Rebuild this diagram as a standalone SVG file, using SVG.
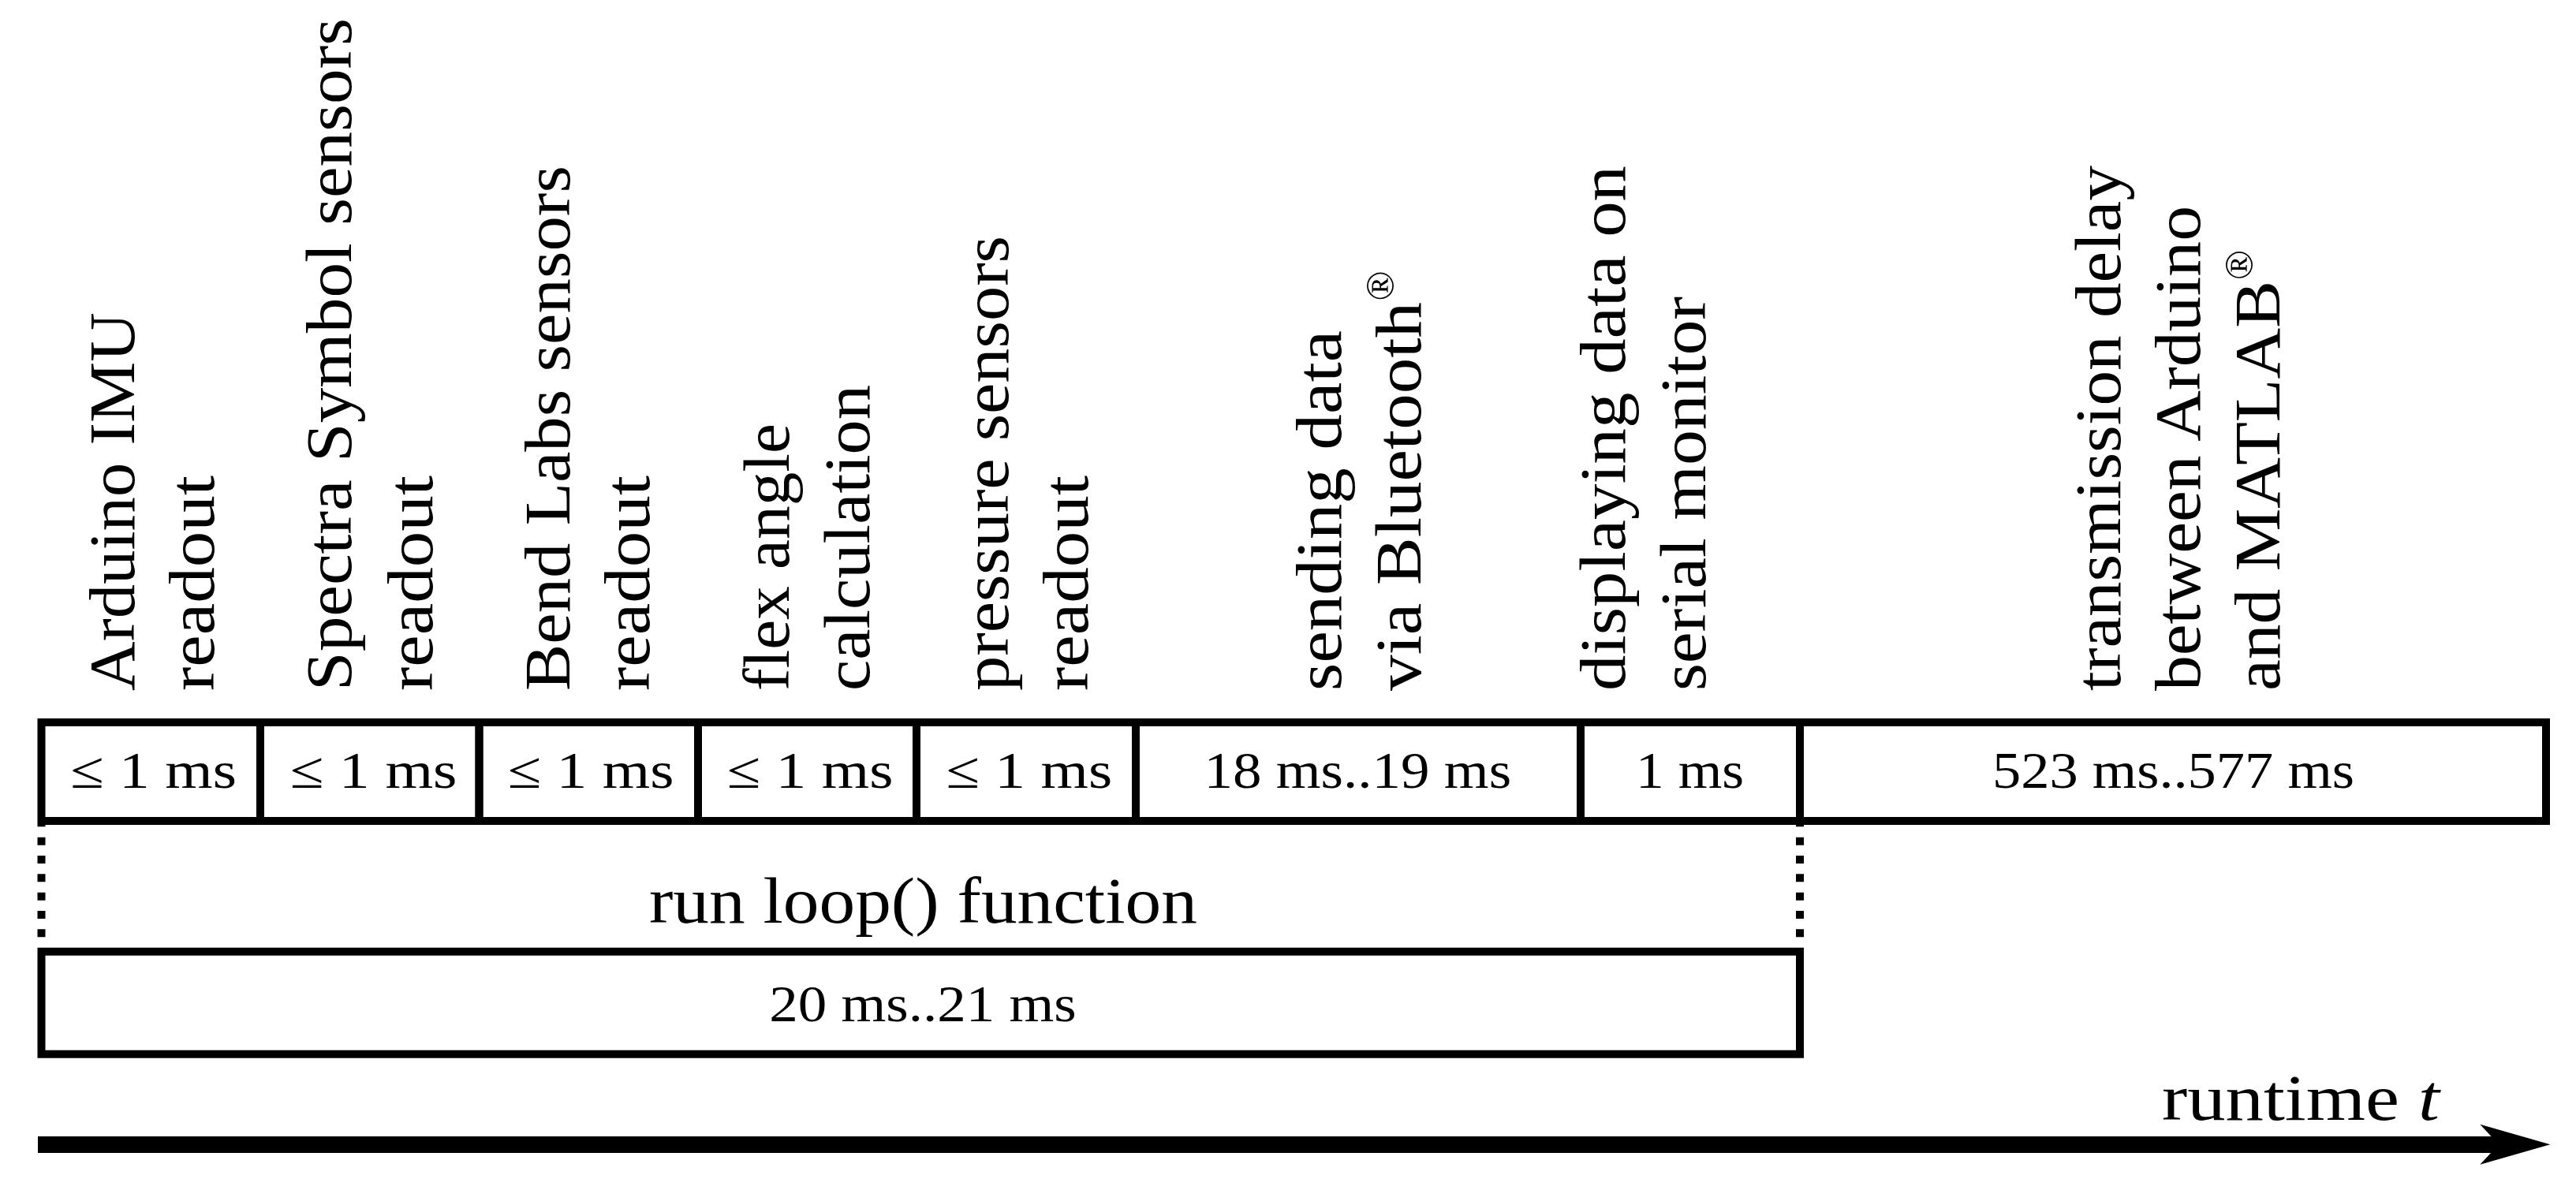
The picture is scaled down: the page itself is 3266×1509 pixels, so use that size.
<svg xmlns="http://www.w3.org/2000/svg" width="3266" height="1509" viewBox="0 0 3266 1509">
<style>
.box{fill:none;stroke:#000;stroke-width:10}
.lbl{font-family:"Liberation Serif",serif;font-size:82px;fill:#000}
.dur{font-family:"Liberation Serif",serif;font-size:66px;text-anchor:middle;fill:#000}
.big{font-family:"Liberation Serif",serif;font-size:82px;fill:#000}
.reg{font-family:"Liberation Serif",serif;font-size:50px;text-anchor:middle;fill:#000}
.dot{fill:none;stroke:#000;stroke-width:10;stroke-dasharray:10 13.33;stroke-dashoffset:7.63}
</style>
<rect width="3266" height="1509" fill="#fff"/>
<g id="n1">
<rect class="box" x="52.5" y="916" width="277.5" height="125"/>
<text class="dur" x="194.5" y="999" textLength="211" lengthAdjust="spacingAndGlyphs">≤ 1 ms</text>
<text class="lbl" transform="translate(169.5,876) rotate(-90)" textLength="480" lengthAdjust="spacingAndGlyphs">Arduino IMU</text>
<text class="lbl" transform="translate(270.5,876) rotate(-90)" textLength="273" lengthAdjust="spacingAndGlyphs">readout</text>
</g>
<g id="n2">
<rect class="box" x="330" y="916" width="277.5" height="125"/>
<text class="dur" x="473.5" y="999" textLength="212" lengthAdjust="spacingAndGlyphs">≤ 1 ms</text>
<text class="lbl" transform="translate(445,876) rotate(-90)" textLength="853" lengthAdjust="spacingAndGlyphs">Spectra Symbol sensors</text>
<text class="lbl" transform="translate(547.5,876) rotate(-90)" textLength="273" lengthAdjust="spacingAndGlyphs">readout</text>
</g>
<g id="n3">
<rect class="box" x="607.5" y="916" width="277.5" height="125"/>
<text class="dur" x="749" y="999" textLength="211" lengthAdjust="spacingAndGlyphs">≤ 1 ms</text>
<text class="lbl" transform="translate(722,876) rotate(-90)" textLength="666" lengthAdjust="spacingAndGlyphs">Bend Labs sensors</text>
<text class="lbl" transform="translate(823,876) rotate(-90)" textLength="273" lengthAdjust="spacingAndGlyphs">readout</text>
</g>
<g id="n4">
<rect class="box" x="885" y="916" width="277" height="125"/>
<text class="dur" x="1027" y="999" textLength="211" lengthAdjust="spacingAndGlyphs">≤ 1 ms</text>
<text class="lbl" transform="translate(1000,876) rotate(-90)" textLength="339" lengthAdjust="spacingAndGlyphs">flex angle</text>
<text class="lbl" transform="translate(1101.5,876) rotate(-90)" textLength="388" lengthAdjust="spacingAndGlyphs">calculation</text>
</g>
<g id="n5">
<rect class="box" x="1162" y="916" width="278" height="125"/>
<text class="dur" x="1304.7" y="999" textLength="211" lengthAdjust="spacingAndGlyphs">≤ 1 ms</text>
<text class="lbl" transform="translate(1278,876) rotate(-90)" textLength="577" lengthAdjust="spacingAndGlyphs">pressure sensors</text>
<text class="lbl" transform="translate(1379,876) rotate(-90)" textLength="273" lengthAdjust="spacingAndGlyphs">readout</text>
</g>
<g id="n6">
<rect class="box" x="1440" y="916" width="564" height="125"/>
<text class="dur" x="1721.3" y="999" textLength="389.5" lengthAdjust="spacingAndGlyphs">18 ms..19 ms</text>
<text class="lbl" transform="translate(1700,876) rotate(-90)" textLength="457" lengthAdjust="spacingAndGlyphs">sending data</text>
<text class="lbl" transform="translate(1801,876) rotate(-90)" textLength="493" lengthAdjust="spacingAndGlyphs">via Bluetooth</text>
<text class="reg" transform="translate(1766.5,362.5) rotate(-90)">®</text>
</g>
<g id="n7">
<rect class="box" x="2004" y="916" width="278" height="125"/>
<text class="dur" x="2142.6" y="999" textLength="137" lengthAdjust="spacingAndGlyphs">1 ms</text>
<text class="lbl" transform="translate(2060,876) rotate(-90)" textLength="666" lengthAdjust="spacingAndGlyphs">displaying data on</text>
<text class="lbl" transform="translate(2162,876) rotate(-90)" textLength="500" lengthAdjust="spacingAndGlyphs">serial monitor</text>
</g>
<g id="n8">
<rect class="box" x="2282" y="916" width="946" height="125"/>
<text class="dur" x="2755.5" y="999" textLength="459" lengthAdjust="spacingAndGlyphs">523 ms..577 ms</text>
<text class="lbl" transform="translate(2688,876) rotate(-90)" textLength="666" lengthAdjust="spacingAndGlyphs">transmission delay</text>
<text class="lbl" transform="translate(2789,876) rotate(-90)" textLength="615" lengthAdjust="spacingAndGlyphs">between Arduino</text>
<text class="lbl" transform="translate(2890,876) rotate(-90)" textLength="520" lengthAdjust="spacingAndGlyphs">and MATLAB</text>
<text class="reg" transform="translate(2855.5,336) rotate(-90)">®</text>
</g>
<g id="loop">
<text class="big" x="1170.4" y="1170" text-anchor="middle" textLength="695" lengthAdjust="spacingAndGlyphs">run loop() function</text>
<rect class="box" x="52.5" y="1206.7" width="2229.5" height="130"/>
<text class="dur" x="1170" y="1295" textLength="389.5" lengthAdjust="spacingAndGlyphs">20 ms..21 ms</text>
</g>
<g id="connectors">
<line class="dot" x1="52.5" y1="1046" x2="52.5" y2="1201.7"/>
<line class="dot" x1="2282" y1="1046" x2="2282" y2="1201.7"/>
</g>
<g id="axis">
<rect x="48" y="1441" width="3122" height="21" fill="#000"/>
<path d="M3144.3,1425.7 L3233.3,1451.3 L3144.3,1476.7 L3168,1451.3 Z" fill="#000"/>
<text class="big" x="2741" y="1420" textLength="352" lengthAdjust="spacingAndGlyphs">runtime <tspan font-style="italic">t</tspan></text>
</g>
</svg>
